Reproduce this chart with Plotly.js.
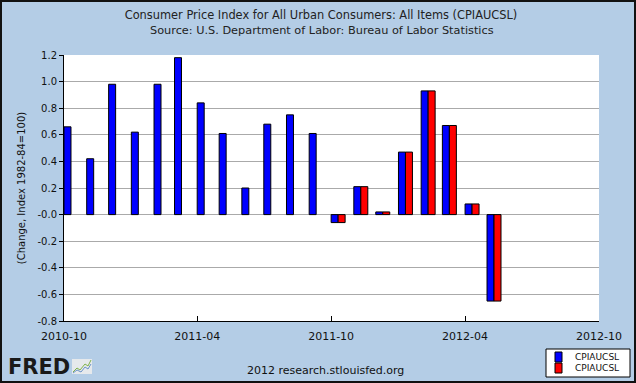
<!DOCTYPE html>
<html>
<head>
<meta charset="utf-8">
<script src="https://cdn.plot.ly/plotly-3.0.1.min.js"></script>
<style>
  html, body { margin: 0; padding: 0; overflow: hidden; background: #b4cde6; }
  #wrap { position: relative; width: 636px; height: 383px; }
  #frame { position: absolute; left: 0; top: 0; width: 636px; height: 383px; box-sizing: border-box; border: 2px solid #111; pointer-events: none; }
</style>
</head>
<body>
<div id="wrap">
  <div id="chart" style="width:636px;height:383px"></div>
  <div id="frame"></div>
</div>
<script>
// ---- data ----
const months = ['2010-10','2010-11','2010-12','2011-01','2011-02','2011-03','2011-04','2011-05','2011-06','2011-07',
                '2011-08','2011-09','2011-10','2011-11','2011-12','2012-01','2012-02','2012-03','2012-04','2012-05'];
const blueValues = [0.66,0.42,0.98,0.62,0.98,1.18,0.84,0.61,0.20,0.68,0.75,0.61,-0.06,0.21,0.02,0.47,0.93,0.67,0.08,-0.65];
const redValues  = [null,null,null,null,null,null,null,null,null,null,null,null,-0.06,0.21,0.02,0.47,0.93,0.67,0.08,-0.65];
const seriesNames = ['CPIAUCSL','CPIAUCSL'];
const seriesColors = ['#0000ff','#ff0000'];
const yTickVals  = [-0.8,-0.6,-0.4,-0.2,0,0.2,0.4,0.6,0.8,1.0,1.2];
const yTickText  = ['-0.8','-0.6','-0.4','-0.2','-0.0','0.2','0.4','0.6','0.8','1.0','1.2'];
const xRange     = ['2010-10-01','2012-10-01'];

// ---- layout helpers (pixel -> paper) ----
const W = 636, H = 383;
const M = {l: 64, r: 37, t: 55, b: 62, autoexpand: false};
const PW = W - M.l - M.r, PH = H - M.t - M.b;
const px = x => (x - M.l) / PW;
const py = y => (H - M.b - y) / PH;

const DAY = 86400000;
const barW = 9.55 * DAY;

const xDates = months.map(m => m + '-01');
const seriesValues = [blueValues, redValues];

const traces = seriesValues.map((vals, i) => ({
  type: 'bar', name: seriesNames[i], x: xDates, y: vals,
  width: barW, offset: i * barW,
  marker: {color: seriesColors[i], line: {color: '#000', width: 1}},
  hoverinfo: 'skip', showlegend: false
}));

const font = 'DejaVu Sans, Verdana, sans-serif';

// compact legend box like the original (drawn as layout decorations)
const legendShapes = [
  {type: 'rect', xref: 'paper', yref: 'paper', x0: px(546), x1: px(630), y0: py(377), y1: py(349),
   fillcolor: '#ffffff', line: {color: '#000', width: 1}, layer: 'above'}
];
const legendAnnots = [];
seriesNames.forEach((name, i) => {
  const top = 352 + i * 11;
  legendShapes.push({type: 'rect', xref: 'paper', yref: 'paper', x0: px(555), x1: px(562), y0: py(top + 10), y1: py(top),
    fillcolor: seriesColors[i], line: {color: '#000', width: 1}, layer: 'above'});
  legendAnnots.push({text: name, xref: 'paper', yref: 'paper', x: px(573), y: py(top + 5),
    xanchor: 'left', yanchor: 'middle', showarrow: false,
    font: {family: font, size: 9, color: '#111'}});
});

const layout = {
  width: W, height: H,
  margin: M,
  paper_bgcolor: '#b4cde6',
  plot_bgcolor: '#ffffff',
  barmode: 'overlay',
  showlegend: false,
  font: {family: font, color: '#111'},
  title: {
    text: 'Consumer Price Index for All Urban Consumers: All Items (CPIAUCSL)',
    font: {family: font, size: 11.4, color: '#222'},
    xref: 'container', x: 321 / W, xanchor: 'center',
    yref: 'container', y: 1 - 15.5 / H, yanchor: 'middle'
  },
  xaxis: {
    type: 'date', range: xRange,
    tickformat: '%Y-%m', dtick: 'M6', tick0: '2010-10-01',
    ticks: 'inside', ticklen: 5, tickcolor: '#000',
    showline: true, linecolor: '#000', linewidth: 1,
    showgrid: false, zeroline: false,
    ticklabelstandoff: 5,
    tickfont: {family: font, size: 11, color: '#111'}
  },
  yaxis: {
    range: [-0.8, 1.2],
    tickvals: yTickVals, ticktext: yTickText,
    ticks: 'outside', ticklen: 4, tickcolor: '#000',
    showline: true, linecolor: '#000', linewidth: 1,
    showgrid: true, gridcolor: '#aaaaaa', gridwidth: 1,
    zeroline: false,
    tickfont: {family: font, size: 10, color: '#111'},
    title: {text: '(Change, Index 1982-84=100)', font: {family: font, size: 10, color: '#111'}, standoff: 9}
  },
  annotations: [
    {
      text: 'Source: U.S. Department of Labor: Bureau of Labor Statistics',
      xref: 'paper', yref: 'paper', x: px(322), y: py(30.5),
      xanchor: 'center', yanchor: 'middle', showarrow: false,
      font: {family: font, size: 11.3, color: '#222'}
    },
    {
      text: '2012 research.stlouisfed.org',
      xref: 'paper', yref: 'paper', x: px(325), y: py(370),
      xanchor: 'center', yanchor: 'middle', showarrow: false,
      font: {family: font, size: 11, color: '#111'}
    },
    {
      text: '<b>FRED</b>',
      xref: 'paper', yref: 'paper', x: px(6), y: py(367),
      xanchor: 'left', yanchor: 'middle', showarrow: false,
      font: {family: 'DejaVu Sans, sans-serif', size: 21, color: '#1a1a1a'}
    }
  ].concat(legendAnnots),
  shapes: [
    // small FRED chart icon
    {type: 'rect', xref: 'paper', yref: 'paper', x0: px(72), x1: px(92), y0: py(374), y1: py(359),
     fillcolor: '#e6e9ec', line: {width: 0}, layer: 'above'},
    {type: 'path', xref: 'paper', yref: 'paper', layer: 'above',
     path: `M ${px(73)} ${py(372)} L ${px(77)} ${py(368)} L ${px(80)} ${py(370)} L ${px(85)} ${py(364)} L ${px(88)} ${py(366)} L ${px(91)} ${py(360)}`,
     line: {color: '#7fb24a', width: 1}},
    {type: 'path', xref: 'paper', yref: 'paper', layer: 'above',
     path: `M ${px(73)} ${py(373)} L ${px(77)} ${py(370)} L ${px(81)} ${py(372)} L ${px(85)} ${py(367)} L ${px(88)} ${py(369)} L ${px(91)} ${py(364)}`,
     line: {color: '#6a93c9', width: 1}}
  ].concat(legendShapes)
};

Plotly.newPlot('chart', traces, layout, {staticPlot: true, displayModeBar: false});
</script>
</body>
</html>
